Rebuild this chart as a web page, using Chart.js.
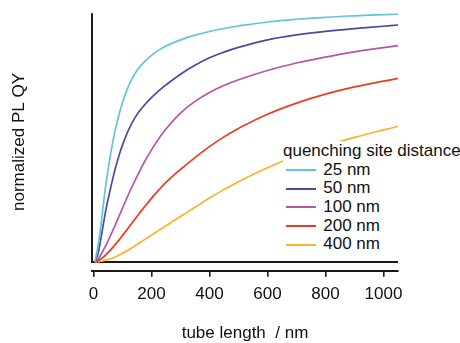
<!DOCTYPE html>
<html><head><meta charset="utf-8">
<script src="https://cdn.jsdelivr.net/npm/chart.js@4.4.0/dist/chart.umd.min.js"></script>
<style>
html,body{margin:0;padding:0;background:#fff;}
#wrap{position:relative;width:460px;height:343px;}
#legend{position:absolute;left:283px;top:141px;background:#fff;font:17px 'Liberation Sans',Arial,sans-serif;color:#111;padding-top:1.3px;padding-right:2px;padding-bottom:2px;}
#legend .ttl{height:18.6px;line-height:18.6px;white-space:nowrap;}
#legend .row{display:flex;align-items:center;height:18.6px;line-height:18.6px;white-space:nowrap;}
#legend .sw{display:inline-block;width:30px;height:2px;margin-left:2.7px;margin-right:7.6px;}
</style></head><body>
<div id="wrap"><canvas id="c" width="460" height="343"></canvas><div id="legend"></div></div>
<script>
// tube length (nm)
const tubeLength = [5, 15, 25, 35, 45, 60, 75, 90, 100, 115, 130, 150, 175, 200, 225, 250, 300, 350, 400, 450, 500, 600, 700, 800, 900, 1000, 1050];
// normalized PL QY for each quenching site distance
const qy25nm  = [0, 0.06, 0.14, 0.24, 0.33, 0.44, 0.53, 0.60, 0.64, 0.69, 0.73, 0.77, 0.805, 0.831, 0.852, 0.868, 0.893, 0.912, 0.927, 0.939, 0.949, 0.965, 0.976, 0.984, 0.990, 0.995, 0.997];
const qy50nm  = [0, 0.03, 0.09, 0.158, 0.222, 0.302, 0.375, 0.435, 0.47, 0.515, 0.5525, 0.5925, 0.63, 0.661, 0.688, 0.712, 0.755, 0.791, 0.821, 0.844, 0.863, 0.893, 0.913, 0.927, 0.938, 0.948, 0.953];
const qy100nm = [0, 0.01, 0.028, 0.05, 0.072, 0.1095, 0.1485, 0.189, 0.216, 0.2565, 0.2955, 0.3435, 0.401, 0.451, 0.496, 0.535, 0.599, 0.646, 0.682, 0.710, 0.733, 0.770, 0.800, 0.824, 0.845, 0.862, 0.870];
const qy200nm = [0, 0.005, 0.012, 0.021, 0.032, 0.05, 0.07, 0.091, 0.106, 0.129, 0.152, 0.183, 0.22, 0.256, 0.289, 0.32, 0.372, 0.42, 0.464, 0.503, 0.537, 0.594, 0.639, 0.675, 0.704, 0.727, 0.738];
const qy400nm = [0, 0.001, 0.003, 0.005, 0.008, 0.013, 0.02, 0.029, 0.035, 0.045, 0.055, 0.07, 0.089, 0.108, 0.127, 0.146, 0.183, 0.22, 0.257, 0.291, 0.323, 0.379, 0.427, 0.467, 0.501, 0.531, 0.545];
const seriesLabels = ['25 nm', '50 nm', '100 nm', '200 nm', '400 nm'];
const seriesColors = ['#62c5dc', '#484c9f', '#b556a9', '#ee3a25', '#fbb12a'];
const xTicks = [0, 200, 400, 600, 800, 1000];
const legendTitle = 'quenching site distance';
const xTitle = 'tube length  / nm';
const yTitle = 'normalized PL QY';
const xMin = -5, xMax = 1050, yMin = -0.035, yMax = 1.0;

const allSeries = [qy25nm, qy50nm, qy100nm, qy200nm, qy400nm];
const datasets = allSeries.map((s, i) => ({
  label: seriesLabels[i],
  data: tubeLength.map((L, j) => ({x: L, y: s[j]})),
  borderColor: seriesColors[i],
  backgroundColor: seriesColors[i],
  borderWidth: 1.7,
  pointRadius: 0,
  fill: false,
  tension: 0.4
}));

const FONT = "'Liberation Sans', Arial, Helvetica, sans-serif";

const axisLines = {
  id: 'axisLines',
  beforeDatasetsDraw(chart) {
    const {ctx, scales: {x, y}} = chart;
    const x0 = x.getPixelForValue(xMin);
    const x1 = x.getPixelForValue(xMax);
    const y0 = y.getPixelForValue(0);
    const y1 = y.getPixelForValue(yMax);
    ctx.save();
    ctx.strokeStyle = '#1a1a1a';
    ctx.lineWidth = 2;
    ctx.lineCap = 'butt';
    ctx.beginPath();
    ctx.moveTo(x0, y1); ctx.lineTo(x0, y0 + 1);
    ctx.moveTo(x0 - 1, y0); ctx.lineTo(x1, y0);
    ctx.stroke();
    ctx.restore();
  }
};

const chart = new Chart(document.getElementById('c'), {
  type: 'line',
  data: {datasets},
  options: {
    responsive: false,
    animation: false,
    devicePixelRatio: 1,
    layout: {padding: {top: 13.3, right: 62, bottom: 0, left: 0}},
    plugins: {legend: {display: false}, tooltip: {enabled: false}},
    scales: {
      x: {
        type: 'linear', min: xMin, max: xMax,
        afterBuildTicks: (s) => { s.ticks = xTicks.map(v => ({value: v})); },
        afterFit: (s) => { s.height = 72.3; },
        grid: {display: true, drawOnChartArea: false, drawTicks: true, tickLength: 6, color: '#1a1a1a', lineWidth: 1.6},
        border: {display: true, color: '#1a1a1a', width: 2},
        ticks: {color: '#111', font: {family: FONT, size: 17}, padding: 7, maxRotation: 0, autoSkip: false, callback: (v) => String(v)},
        title: {display: true, text: xTitle, color: '#111', font: {family: FONT, size: 17, lineHeight: 1.1}, padding: {top: 0, bottom: 0}}
      },
      y: {
        type: 'linear', min: yMin, max: yMax,
        afterFit: (s) => { s.width = 92; },
        grid: {display: false},
        border: {display: false},
        ticks: {display: false},
        title: {display: true, text: yTitle, color: '#111', font: {family: FONT, size: 17, lineHeight: 1.1}, padding: {top: 10, bottom: 0}}
      }
    }
  },
  plugins: [axisLines]
});

// legend built from the chart's datasets
const leg = document.getElementById('legend');
const t = document.createElement('div'); t.className = 'ttl'; t.textContent = legendTitle; leg.appendChild(t);
chart.data.datasets.forEach(ds => {
  const r = document.createElement('div'); r.className = 'row';
  const sw = document.createElement('span'); sw.className = 'sw'; sw.style.background = ds.borderColor;
  const tx = document.createElement('span'); tx.textContent = ds.label;
  r.appendChild(sw); r.appendChild(tx); leg.appendChild(r);
});
</script>
</body></html>
